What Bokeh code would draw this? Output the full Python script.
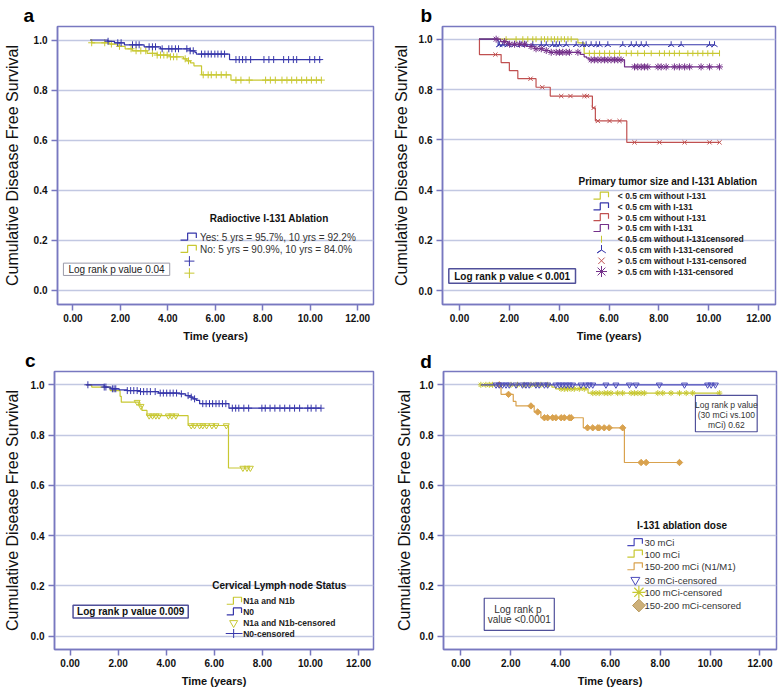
import numpy as np
from bokeh.plotting import figure
from bokeh.layouts import column, row
from bokeh.models import Range1d, FixedTicker, NumeralTickFormatter, Label
from bokeh.embed import file_html
from bokeh.resources import INLINE

FONT = "Liberation Sans"

# ---------------- data ----------------
x_ticks = [0, 2, 4, 6, 8, 10, 12]
y_ticks = [0.0, 0.2, 0.4, 0.6, 0.8, 1.0]
x_tick_labels = ["0.00", "2.00", "4.00", "6.00", "8.00", "10.00", "12.00"]
y_tick_labels = ["0.0", "0.2", "0.4", "0.6", "0.8", "1.0"]
y_title = "Cumulative Disease Free Survival"
x_title = "Time (years)"
panel_letters = ["a", "b", "c", "d"]

# panel a : radioactive I-131 ablation
a_yes_time = [0.72, 1.47, 1.75, 2.17, 3.0, 3.69, 4.94, 5.14, 5.2, 6.6, 10.47]
a_yes_surv = [1.0, 0.995, 0.989, 0.981, 0.973, 0.965, 0.957, 0.951, 0.944, 0.922, 0.922]
a_yes_cens = [1.48, 1.89, 2.03, 2.51, 2.66, 2.79, 3.21, 3.35, 3.48, 3.76, 4.04, 4.17, 4.32, 4.45,
              4.80, 4.94, 5.07, 5.42, 5.56, 5.70, 5.83, 5.98, 6.11, 6.25, 6.39, 6.87, 7.01, 7.15,
              7.29, 7.49, 8.05, 8.26, 8.46, 8.88, 9.09, 9.29, 9.43, 9.98, 10.19, 10.40]
a_no_time = [0.72, 0.79, 1.55, 1.88, 2.2, 2.5, 3.13, 3.55, 4.1, 4.66, 4.8, 4.95, 5.1, 5.42, 6.66, 10.47]
a_no_surv = [1.0, 0.989, 0.984, 0.975, 0.965, 0.957, 0.947, 0.940, 0.933, 0.925, 0.917, 0.909,
             0.897, 0.861, 0.840, 0.840]
a_no_cens = [0.79, 1.34, 1.62, 1.96, 2.45, 2.66, 2.86, 3.07, 3.35, 3.55, 3.69, 3.83, 3.97, 4.11,
             4.24, 4.38, 4.73, 4.87, 5.49, 5.70, 5.83, 6.04, 6.25, 6.46, 6.87, 7.08, 7.43, 8.12,
             8.32, 8.53, 8.81, 9.02, 9.22, 9.43, 9.64, 9.85, 10.05, 10.26, 10.47]
a_title = "Radioctive I-131 Ablation"
a_labels = ["Yes: 5 yrs = 95.7%, 10 yrs = 92.2%", "No:  5 yrs = 90.9%, 10 yrs = 84.0%"]
a_pvalue = "Log rank p value 0.04"

# panel b : primary tumour size and I-131 ablation
b_ys_time = [0.78, 4.75, 5.0, 10.43]
b_ys_surv = [1.0, 0.985, 0.944, 0.944]
b_ys_cens = [1.87, 2.27, 2.54, 2.74, 2.94, 3.07, 3.28, 3.41, 3.54, 3.68, 3.81, 3.94, 4.08, 4.21,
             4.35, 4.48, 5.21, 5.41, 5.62, 5.82, 6.02, 6.22, 6.42, 6.69, 6.89, 7.15, 7.42, 7.69,
             8.02, 8.22, 8.42, 8.62, 8.82, 9.16, 9.36, 9.56, 9.76, 9.96, 10.16, 10.43]
b_bs_time = [0.78, 1.55, 10.25]
b_bs_surv = [1.0, 0.978, 0.978]
b_bs_cens = [1.60, 1.74, 1.94, 2.21, 2.47, 2.67, 2.94, 3.28, 3.48, 3.74, 3.88, 4.01, 4.28, 4.68,
             4.95, 5.08, 5.28, 5.48, 5.62, 5.95, 6.55, 6.89, 7.09, 7.29, 7.49, 8.49, 8.89, 10.03, 10.23]
b_rl_time = [0.78, 0.80, 1.67, 2.0, 2.34, 3.07, 3.64, 5.33, 5.45, 6.71, 10.43]
b_rl_surv = [1.0, 0.939, 0.907, 0.875, 0.843, 0.809, 0.774, 0.727, 0.675, 0.59, 0.59]
b_rl_cens = [1.44, 2.85, 3.32, 4.08, 4.45, 5.01, 5.11, 5.38, 5.55, 6.02, 6.42, 7.02, 8.02, 9.03,
             10.03, 10.43]
b_pl_time = [0.78, 1.65, 1.95, 2.67, 3.0, 3.35, 3.62, 4.85, 5.0, 5.1, 5.2, 6.62, 10.43]
b_pl_surv = [1.0, 0.99, 0.98, 0.971, 0.962, 0.955, 0.948, 0.94, 0.93, 0.925, 0.918, 0.89, 0.89]
b_pl_cens = [1.47, 1.81, 2.01, 2.21, 2.41, 2.61, 2.87, 3.07, 3.28, 3.48, 3.68, 3.88, 4.01, 4.14,
             4.28, 4.41, 4.75, 5.28, 5.41, 5.55, 5.68, 5.82, 5.95, 6.08, 6.22, 6.35, 6.48, 7.02,
             7.15, 7.29, 7.42, 7.55, 7.96, 8.09, 8.29, 8.62, 8.82, 9.03, 9.23, 9.69, 10.03, 10.43]
b_title = "Primary tumor size and I-131 Ablation"
b_labels = ["< 0.5 cm without I-131", "< 0.5 cm with I-131", "> 0.5 cm without I-131",
            "> 0.5 cm with I-131", "< 0.5 cm without I-131censored", "< 0.5 cm with I-131-censored",
            "> 0.5 cm without I-131-censored", "> 0.5 cm with I-131-censored"]
b_pvalue = "Log rank p value < 0.001"

# panel c : cervical lymph node status
c_n1_time = [0.67, 0.90, 1.67, 2.08, 2.13, 2.90, 2.99, 3.20, 4.91, 6.59, 7.50]
c_n1_surv = [1.0, 0.991, 0.977, 0.954, 0.931, 0.915, 0.898, 0.877, 0.838, 0.669, 0.669]
c_n1_cens = [2.79, 2.95, 3.29, 3.43, 3.57, 3.70, 4.09, 4.23, 4.40, 5.04, 5.18, 5.39, 5.52, 5.68,
             5.90, 6.07, 6.50, 7.19, 7.36, 7.50]
c_n0_time = [0.67, 1.42, 1.70, 2.04, 2.38, 2.93, 3.68, 4.57, 4.81, 4.98, 5.11, 5.25, 5.39, 6.61, 10.44]
c_n0_surv = [1.0, 0.991, 0.984, 0.980, 0.977, 0.973, 0.967, 0.964, 0.957, 0.951, 0.944, 0.938,
             0.925, 0.907, 0.907]
c_n0_cens = [0.74, 1.42, 1.49, 1.76, 1.83, 1.90, 2.38, 2.52, 2.65, 2.79, 2.93, 3.06, 3.20, 3.34,
             3.54, 3.75, 3.88, 4.02, 4.16, 4.29, 4.43, 4.63, 4.91, 5.04, 5.18, 5.52, 5.66, 5.80,
             5.93, 6.07, 6.20, 6.34, 6.48, 6.75, 6.89, 7.02, 7.23, 7.43, 7.98, 8.12, 8.32, 8.52,
             8.73, 8.93, 9.14, 9.34, 9.55, 9.89, 10.03, 10.23, 10.44]
c_title = "Cervical Lymph node Status"
c_labels = ["N1a and N1b", "N0", "N1a and N1b-censored", "N0-censored"]
c_pvalue = "Log rank p value 0.009"

# panel d : I-131 ablation dose
d_30_time = [0.80, 10.24]
d_30_surv = [1.0, 1.0]
d_30_cens = [1.41, 1.54, 1.67, 1.81, 1.94, 2.21, 2.47, 2.61, 2.74, 3.01, 3.14, 3.35, 3.48, 3.81,
             3.95, 4.08, 4.22, 4.35, 4.48, 4.82, 5.02, 5.15, 5.29, 5.82, 6.22, 6.76, 7.03, 7.96,
             8.97, 9.90, 10.04, 10.21]
d_100_time = [0.80, 3.65, 3.8, 5.1, 10.37]
d_100_surv = [1.0, 0.991, 0.984, 0.967, 0.967]
d_100_cens = [0.80, 1.00, 1.14, 1.27, 2.01, 2.27, 2.54, 2.81, 3.01, 3.21, 3.48, 4.02, 4.15, 4.28,
              4.42, 4.55, 4.75, 4.95, 5.29, 5.42, 5.55, 5.75, 5.89, 6.02, 6.29, 6.49, 6.83, 6.96,
              7.10, 7.23, 7.36, 7.90, 8.10, 8.43, 8.77, 9.04, 9.30, 10.37]
d_150_time = [1.41, 1.61, 2.10, 2.21, 2.94, 3.21, 4.91, 6.56, 8.84]
d_150_surv = [1.0, 0.962, 0.934, 0.916, 0.892, 0.869, 0.829, 0.691, 0.691]
d_150_cens = [1.54, 1.91, 2.81, 3.08, 3.35, 3.48, 3.68, 3.81, 4.02, 4.15, 4.35, 4.42, 5.08, 5.29,
              5.49, 5.55, 5.75, 5.95, 6.49, 7.23, 7.43, 8.77]
d_title = "I-131 ablation dose"
d_labels = ["30 mCi", "100 mCi", "150-200 mCi (N1/M1)", "30 mCi-censored", "100 mCi-censored",
            "150-200 mCi-censored"]
d_pvalue1 = ["Log rank p value", "(30 mCi vs.100", "mCi) 0.62"]
d_pvalue2 = ["Log rank  p", "value <0.0001"]

# ---------------- style ----------------
FRAME = "#7878c0"
GRID = "#c2c8e2"
BLUE = "#3636aa"
YELLOW = "#c8c832"
RED = "#c05050"
PURPLE = "#74308a"
DBLUE = "#4a4abb"
TAN = "#d9a24e"
BOXLINE = "#50509a"

COL_SPLIT, ROW_SPLIT = 389, 346
COL_W = [389, 389]
ROW_H = [346, 348]


def at(times, surv, c):
    t = np.asarray(times)
    s = np.asarray(surv)
    idx = np.searchsorted(t, np.asarray(c), side="right") - 1
    return s[np.clip(idx, 0, len(s) - 1)]


def build(col, rw, L, R, T, B, x0, xp, y1, yp, ystand, letter, letter_x, letter_gap):
    ox = [0, COL_SPLIT][col]
    oy = [0, ROW_SPLIT][rw]
    cw, rh = COL_W[col], ROW_H[rw]
    bl = round(L - ox)
    br = cw - round(R - ox)
    bt = round(T - oy)
    bb = rh - round(B - oy)

    def fx(px):
        return (px - x0) / xp

    def fy(py):
        return 1 - (py - y1) / yp

    p = figure(width=cw, height=rh, x_range=Range1d(fx(L), fx(R)), y_range=Range1d(fy(B), fy(T)),
               output_backend="svg", toolbar_location=None,
               min_border_left=bl, min_border_right=br, min_border_top=bt, min_border_bottom=bb)
    p.title.text = letter
    p.title.text_font = FONT
    p.title.text_font_size = "19px"
    p.title.text_font_style = "bold"
    p.title.text_color = "#000000"
    p.title.align = "left"
    p.title.offset = letter_x - L
    p.title.standoff = letter_gap
    p.background_fill_color = "white"
    p.border_fill_color = "white"
    p.outline_line_color = FRAME
    p.outline_line_width = 1.5
    p.outline_line_alpha = 1.0
    p.xgrid.grid_line_color = None
    p.ygrid.grid_line_color = GRID
    p.ygrid.grid_line_width = 1.3
    p.xaxis.ticker = FixedTicker(ticks=x_ticks)
    p.yaxis.ticker = FixedTicker(ticks=y_ticks)
    p.xaxis.major_label_overrides = {t: l for t, l in zip(x_ticks, x_tick_labels)}
    p.yaxis.formatter = NumeralTickFormatter(format="0.0")
    for ax in (p.xaxis[0], p.yaxis[0]):
        ax.axis_line_color = FRAME
        ax.axis_line_width = 1.5
        ax.major_tick_line_color = FRAME
        ax.major_tick_line_width = 1.5
        ax.major_tick_in = 0
        ax.minor_tick_line_color = None
        ax.major_label_text_font = FONT
        ax.major_label_text_font_style = "bold"
        ax.major_label_text_font_size = "10px"
        ax.major_label_text_color = "#111111"
    p.xaxis.major_tick_out = 6
    p.xaxis.major_label_standoff = 3
    p.yaxis.major_tick_out = 6
    p.yaxis.major_label_standoff = 4
    p.xaxis.axis_label = x_title
    p.xaxis.axis_label_text_font = FONT
    p.xaxis.axis_label_text_font_style = "bold"
    p.xaxis.axis_label_text_font_size = "11px"
    p.xaxis.axis_label_text_color = "#111111"
    p.xaxis.axis_label_standoff = 5
    p.yaxis.axis_label = y_title
    p.yaxis.axis_label_text_font = FONT
    p.yaxis.axis_label_text_font_style = "normal"
    p.yaxis.axis_label_text_font_size = "16px"
    p.yaxis.axis_label_text_color = "#111111"
    p.yaxis.axis_label_standoff = ystand
    return p, fx, fy


def label(p, fx, fy, px, py, text, size, bold=False, align="left", color="#222222",
          baseline="middle"):
    p.add_layout(Label(x=fx(px), y=fy(py), text=text, text_font=FONT,
                       text_font_size=f"{size}px",
                       text_font_style="bold" if bold else "normal",
                       text_align=align, text_baseline=baseline, text_color=color))


def step_icon(p, fx, fy, xa, xb, py, color):
    xm = xa + (xb - xa) * 0.45
    xs = [fx(xa), fx(xm), fx(xm), fx(xb), fx(xb)]
    ys = [fy(py + 3), fy(py + 3), fy(py - 4), fy(py - 4), fy(py + 1)]
    p.line(xs, ys, line_color=color, line_width=1.2)


def box(p, fx, fy, xa, xb, ya, yb, color, width=1.2):
    p.quad(left=fx(xa), right=fx(xb), top=fy(ya), bottom=fy(yb), fill_color="white",
           line_color=color, line_width=width)


def curve(p, times, surv, cens, color, marker, size, angle=0.0, fill=None, lw=1.2):
    p.step(times, surv, mode="after", line_color=color, line_width=lw)
    p.scatter(cens, at(times, surv, cens), marker=marker, size=size, angle=angle,
              line_color=color, fill_color=fill, line_width=1.0)


# ---------------- panel a ----------------
pa, fx, fy = build(0, 0, 52, 373, 26.5, 304, 67.7, 24.1, 40, 250, 10, panel_letters[0], 18, 2)
curve(pa, a_no_time, a_no_surv, a_no_cens, YELLOW, "cross", 7)
curve(pa, a_yes_time, a_yes_surv, a_yes_cens, BLUE, "cross", 7)
label(pa, fx, fy, 206.7, 218, a_title, 10, bold=True, color="#111111")
step_icon(pa, fx, fy, 177, 193, 236.7, BLUE)
step_icon(pa, fx, fy, 177, 193, 249, YELLOW)
label(pa, fx, fy, 196.7, 236.7, a_labels[0], 10, color="#333333")
label(pa, fx, fy, 196.7, 249, a_labels[1], 10, color="#333333")
pa.scatter([fx(186)], [fy(260.7)], marker="cross", size=10, line_color=BLUE, line_width=1.0)
pa.scatter([fx(186)], [fy(272.7)], marker="cross", size=10, line_color=YELLOW, line_width=1.0)
box(pa, fx, fy, 58, 166, 262.7, 275, "#9a9aa8", 1.0)
label(pa, fx, fy, 112, 269, a_pvalue, 10, align="center", color="#222222")

# ---------------- panel b ----------------
pb, fx, fy = build(1, 0, 442, 775, 26, 304, 459, 24.93, 38.7, 251.6, 6, panel_letters[1], 420, 2)
curve(pb, b_ys_time, b_ys_surv, b_ys_cens, YELLOW, "dash", 6, angle=np.pi / 2)
curve(pb, b_bs_time, b_bs_surv, b_bs_cens, BLUE, "y", 7, angle=np.pi)
curve(pb, b_rl_time, b_rl_surv, b_rl_cens, RED, "x", 6)
curve(pb, b_pl_time, b_pl_surv, b_pl_cens, PURPLE, "asterisk", 7)
label(pb, fx, fy, 578, 180.7, b_title, 10, bold=True, color="#111111")
b_colors = [YELLOW, BLUE, RED, PURPLE]
b_markers = [("dash", 7, np.pi / 2), ("y", 10, np.pi), ("x", 9, 0.0), ("asterisk", 11, 0.0)]
for i, txt in enumerate(b_labels):
    yy = 195.7 + i * 10.76
    label(pb, fx, fy, 617.3, yy, txt, 8.5, bold=True, color="#222222")
    if i < 4:
        step_icon(pb, fx, fy, 593, 608, yy, b_colors[i])
    else:
        mk, sz, ang = b_markers[i - 4]
        pb.scatter([fx(601)], [fy(yy)], marker=mk, size=sz, angle=ang,
                   line_color=b_colors[i - 4], line_width=1.0)
box(pb, fx, fy, 448.3, 575, 268.3, 282.7, BOXLINE, 1.5)
label(pb, fx, fy, 511.7, 275.5, b_pvalue, 10, bold=True, align="center", color="#111111")

# ---------------- panel c ----------------
pc, fx, fy = build(0, 1, 49.5, 372.7, 371, 649.3, 65.3, 24.35, 384.3, 251.7, 7, panel_letters[2], 20, 2)
curve(pc, c_n1_time, c_n1_surv, c_n1_cens, YELLOW, "inverted_triangle", 6)
curve(pc, c_n0_time, c_n0_surv, c_n0_cens, BLUE, "cross", 7)
label(pc, fx, fy, 209.3, 585.7, c_title, 10, bold=True, color="#111111")
c_rows = [601, 611.7, 622.7, 633.3]
for i, txt in enumerate(c_labels):
    label(pc, fx, fy, 240.7, c_rows[i], txt, 8.5, bold=True, color="#222222")
step_icon(pc, fx, fy, 224, 239, c_rows[0], YELLOW)
step_icon(pc, fx, fy, 224, 239, c_rows[1], BLUE)
pc.scatter([fx(231)], [fy(c_rows[2])], marker="inverted_triangle", size=8, line_color=YELLOW,
           fill_color=None, line_width=1.0)
pc.line([fx(223), fx(240)], [fy(c_rows[3]), fy(c_rows[3])], line_color=BLUE, line_width=1.0)
pc.scatter([fx(231)], [fy(c_rows[3])], marker="cross", size=9, line_color=BLUE, line_width=1.0)
box(pc, fx, fy, 68.3, 185, 605, 617.7, BOXLINE, 1.5)
label(pc, fx, fy, 126.7, 611.5, c_pvalue, 10, bold=True, align="center", color="#111111")

# ---------------- panel d ----------------
pd, fx, fy = build(1, 1, 443.3, 776, 369.3, 649.3, 460.7, 24.9, 382.7, 253.3, 4, panel_letters[3], 420, 0)
curve(pd, d_150_time, d_150_surv, d_150_cens, TAN, "square", 4.5, angle=np.pi / 4, fill=TAN)
curve(pd, d_100_time, d_100_surv, d_100_cens, YELLOW, "asterisk", 6)
curve(pd, d_30_time, d_30_surv, d_30_cens, DBLUE, "inverted_triangle", 6)
label(pd, fx, fy, 636.7, 524, d_title, 10, bold=True, color="#111111")
d_rows = [541.7, 553.3, 566, 579.3, 591.7, 605]
for i, txt in enumerate(d_labels):
    label(pd, fx, fy, 644, d_rows[i], txt, 9.5, color="#333333")
step_icon(pd, fx, fy, 627, 642, d_rows[0], DBLUE)
step_icon(pd, fx, fy, 627, 642, d_rows[1], YELLOW)
step_icon(pd, fx, fy, 627, 642, d_rows[2], TAN)
pd.scatter([fx(635)], [fy(d_rows[3])], marker="inverted_triangle", size=9, line_color=DBLUE,
           fill_color=None, line_width=1.0)
pd.scatter([fx(638.5)], [fy(d_rows[4])], marker="asterisk", size=13, line_color=YELLOW,
           line_width=1.2)
pd.scatter([fx(638.5)], [fy(d_rows[5])], marker="square", size=9, angle=np.pi / 4,
           line_color="#b89a60", fill_color="#cdb07a", line_width=1.0)
box(pd, fx, fy, 695, 756.7, 393.3, 430, BOXLINE, 1.2)
for i, txt in enumerate(d_pvalue1):
    label(pd, fx, fy, 725.9, 403 + i * 10.2, txt, 8.5, align="center", color="#333333")
box(pd, fx, fy, 484, 554, 597.7, 630, BOXLINE, 1.2)
for i, txt in enumerate(d_pvalue2):
    label(pd, fx, fy, 519, 609 + i * 10, txt, 10, align="center", color="#333333")

layout = column(row(pa, pb), row(pc, pd))
open("out.html", "w").write(file_html(layout, INLINE))
